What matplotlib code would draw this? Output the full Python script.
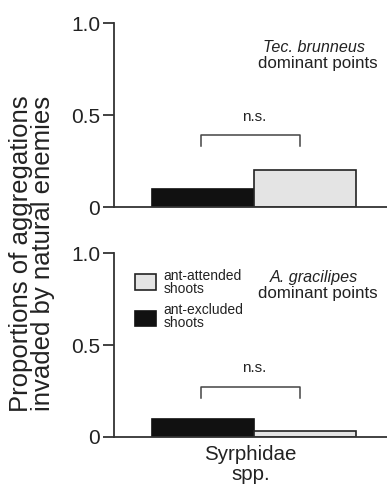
import matplotlib.pyplot as plt

plt.rcParams["font.family"] = ["Liberation Sans", "DejaVu Sans"]

# data
panels = ["Tec. brunneus", "A. gracilipes"]
excluded = [0.10, 0.10]     # ant-excluded shoots (black)
attended = [0.20, 0.033]    # ant-attended shoots (grey)
bracket_top = [0.39, 0.27]
ns_y = [0.49, 0.375]
category = "Syrphidae\nspp."

w = 0.4
fig = plt.figure(figsize=(3.87, 4.93), dpi=100)
axes = [fig.add_axes([0.295, 0.580, 0.705, 0.373]),
        fig.add_axes([0.295, 0.1136, 0.705, 0.373])]

for i, ax in enumerate(axes):
    ax.bar(-w / 2, excluded[i], w, color="#111111", edgecolor="#111111", linewidth=1.2)
    ax.bar(w / 2, attended[i], w, color="#e4e4e4", edgecolor="#222222", linewidth=1.2)
    ax.set_xlim(-0.55, 0.52)
    ax.set_ylim(0, 1.0)
    ax.set_yticks([0, 0.5, 1.0])
    ax.set_yticklabels(["0", "0.5", "1.0"], fontsize=15, color="#222222")
    ax.set_xticks([])
    for s in ["top", "right"]:
        ax.spines[s].set_visible(False)
    for s in ["left", "bottom"]:
        ax.spines[s].set_linewidth(1.3)
        ax.spines[s].set_color("#333333")
    ax.tick_params(axis="y", length=8, width=1.3, color="#333333", pad=2)

    # bracket and n.s.
    top = bracket_top[i]
    ax.plot([-0.21, -0.21, 0.18, 0.18], [top - 0.06, top, top, top - 0.06],
            color="#444444", lw=1.1)
    ax.text(0.0, ns_y[i], "n.s.", ha="center", va="center", fontsize=11, color="#222222")

    ax.text(0.235, 0.87, panels[i], ha="center", va="center", fontsize=11.6,
            style="italic", color="#222222")
    ax.text(0.25, 0.78, "dominant points", ha="center", va="center", fontsize=12.2,
            color="#222222")

# legend in lower panel, drawn manually
ax = axes[1]
ax.bar(-0.427, 0.086, 0.08, bottom=0.80, color="#e4e4e4", edgecolor="#222222", linewidth=1.2)
ax.bar(-0.427, 0.082, 0.08, bottom=0.603, color="#111111", edgecolor="#111111", linewidth=1.2)
ax.text(-0.357, 0.842, "ant-attended\nshoots", ha="left", va="center", fontsize=10,
        linespacing=0.88, color="#222222")
ax.text(-0.357, 0.657, "ant-excluded\nshoots", ha="left", va="center", fontsize=10,
        linespacing=0.88, color="#222222")

ax.set_xlabel(category, fontsize=14.8, labelpad=6, linespacing=1.05, color="#222222")

fig.text(0.083, 0.485, "Proportions of aggregations\ninvaded by natural enemies",
         rotation=90, ha="center", va="center", fontsize=18.5, linespacing=0.92,
         color="#222222")

fig.savefig("out.png", dpi=100)
